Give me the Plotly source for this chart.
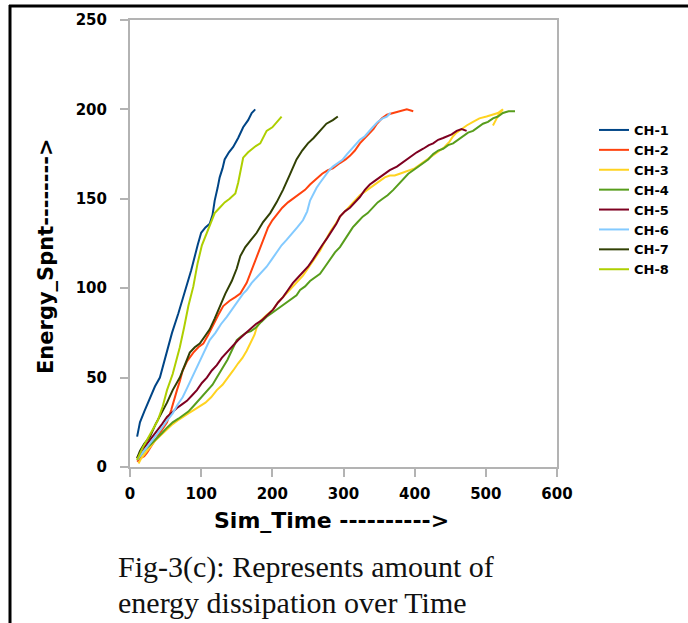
import plotly.graph_objects as go

# ---- data (Sim_Time, Energy_Spnt) ----
CH1 = [(10,17),(14,25),(20,31),(28,39),(35,45),(42,50),(50,62),(59,75),(68,86),(77,98),(86,110),
       (95,124),(100,131),(106,134),(112,136),(116,141),(119,149),(123,156),(126,162),(130,167),
       (133,172),(139,176),(145,179),(152,184),(159,190),(166,194),(171,198),(176,200)]
CH2 = [(10,3),(15,5),(20,6),(24,8),(32,13),(40,18),(46,22),(52,25),(58,32),(62,38),(66,43),(70,48),
       (74,54),(80,59),(89,64),(96,67),(103,69),(110,74),(117,80),(124,85),(131,90),(140,93),(148,95),
       (155,97),(164,103),(169,108),(176,116),(182,122),(187,127),(194,134),(200,138),(206,141),
       (214,145),(222,148),(229,150),(238,153),(246,155),(253,158),(262,161),(270,164),(278,166),
       (285,167),(295,170),(303,172),(309,174),(316,177),(323,181),(330,184),(337,187),(342,189),
       (347,192),(354,195),(361,197),(370,198),(379,199),(389,200),(398,199)]
CH3 = [(12,2),(16,5),(22,8),(28,11),(36,15),(44,18),(52,21),(60,24),(67,26),(74,28),(82,30),(90,32),
       (98,34),(106,36),(114,39),(122,43),(130,46),(138,50),(145,54),(152,58),(158,61),(164,65),
       (170,70),(175,74),(178,78),(184,82),(192,85),(201,88),(208,92),(215,95),(222,98),(229,101),
       (236,104),(243,107),(250,111),(258,116),(267,121),(275,127),(282,132),(289,136),(295,140),
       (302,143),(309,146),(316,149),(323,152),(330,154),(337,156),(344,158),(351,160),(358,162),
       (365,163),(372,163),(379,164),(386,165),(393,166),(400,167),(407,169),(414,171),(421,173),
       (428,175),(435,177),(442,179),(449,182),(454,185),(459,187),(466,189),(473,191),(482,193),
       (491,195),(501,196),(510,197),(517,198),(524,200),(518,197),(514,194),(510,191)]
CH4 = [(10,4),(16,7),(22,10),(30,13),(38,16),(45,19),(52,22),(60,25),(68,27),(75,29),(82,31),(89,34),
       (96,37),(103,40),(110,43),(116,46),(122,50),(130,55),(137,60),(144,66),(150,71),(156,73),
       (163,75),(170,76),(177,78),(184,81),(192,84),(199,86),(206,88),(213,90),(220,92),(227,94),
       (234,96),(239,99),(246,101),(253,104),(260,106),(267,108),(274,112),(281,116),(288,120),
       (295,123),(302,127),(308,131),(313,134),(320,137),(327,140),(334,142),(341,145),(348,148),
       (355,150),(362,152),(370,155),(377,158),(384,161),(391,164),(398,166),(405,168),(412,170),
       (419,172),(426,175),(433,177),(440,178),(447,180),(454,181),(461,183),(468,185),(475,187),
       (482,188),(489,190),(496,192),(503,193),(510,195),(517,196),(524,198),(532,199),(541,199)]
CH5 = [(10,5),(16,9),(22,12),(30,16),(38,20),(45,24),(52,28),(60,31),(66,33),(73,35),(80,37),(87,40),
       (94,43),(101,47),(108,50),(115,54),(122,57),(129,61),(136,64),(144,68),(152,71),(160,74),
       (169,77),(177,80),(185,82),(193,85),(201,88),(208,92),(215,95),(222,99),(229,103),(236,106),
       (243,109),(250,112),(257,116),(263,120),(270,124),(277,128),(284,132),(290,136),(295,140),
       (302,143),(309,145),(316,148),(323,151),(330,155),(337,158),(344,160),(351,162),(358,164),
       (365,166),(375,168),(385,171),(395,174),(403,176),(412,178),(420,180),(426,181),(433,183),
       (440,184),(445,185),(452,186),(459,188),(466,189),(473,188)]
CH6 = [(10,4),(16,7),(22,10),(30,14),(38,18),(45,22),(52,26),(60,30),(67,35),(74,39),(80,44),(87,50),
       (94,56),(100,61),(106,66),(112,71),(120,75),(128,80),(136,84),(143,88),(151,93),(159,97),
       (164,99),(171,103),(178,106),(185,109),(192,112),(199,116),(206,120),(213,124),(220,127),
       (227,130),(235,134),(243,138),(249,143),(253,149),(258,153),(262,156),(267,159),(274,163),
       (280,166),(285,168),(292,170),(299,172),(305,175),(312,178),(318,181),(323,183),(330,185),
       (336,188),(341,190),(348,193),(355,195),(361,196),(366,198)]
CH7 = [(10,5),(14,9),(20,13),(28,17),(36,24),(44,30),(52,36),(60,43),(70,50),(77,57),(84,64),(91,67),
       (98,69),(105,73),(112,77),(119,83),(126,90),(134,97),(143,104),(150,111),(155,118),(162,123),
       (170,127),(178,131),(187,137),(197,142),(206,148),(215,155),(224,163),(234,172),(242,177),
       (250,181),(258,184),(267,188),(276,192),(285,194),(292,196)]
CH8 = [(10,4),(14,8),(18,11),(25,16),(32,21),(39,26),(46,34),(52,43),(60,52),(66,61),(70,67),(76,78),
       (82,90),(89,101),(95,114),(101,124),(108,131),(114,137),(119,142),(126,145),(133,148),
       (140,150),(148,153),(152,159),(155,166),(159,173),(166,176),(175,179),(183,181),(192,188),
       (200,190),(207,193),(213,196)]

series_names = ["CH-1", "CH-2", "CH-3", "CH-4", "CH-5", "CH-6", "CH-7", "CH-8"]
series_data = [CH1, CH2, CH3, CH4, CH5, CH6, CH7, CH8]
colors = ["#004586", "#ff420e", "#ffd320", "#579d1c", "#7e0021", "#83caff", "#314004", "#aecf00"]

x_ticks = [0, 100, 200, 300, 400, 500, 600]
y_ticks = [0, 50, 100, 150, 200, 250]

fig = go.Figure()
for name, pts, col in zip(series_names, series_data, colors):
    fig.add_trace(go.Scatter(
        x=[p[0] for p in pts], y=[p[1] for p in pts], name=name,
        mode="lines", line=dict(color=col, width=2),
    ))

W, H = 688, 623
L, R, T, B = 130, 131, 20, 156
pw, ph = W - L - R, H - T - B

def px(xp):
    return (xp - L) / pw

def py(yp):
    return (H - B - yp) / ph

tickfont = dict(family="DejaVu Sans", size=15, color="black", weight="bold")
axis_common = dict(showline=True, linecolor="#b3b3b3", linewidth=2, mirror=True,
                   ticks="outside", ticklen=8, tickcolor="#b3b3b3", tickwidth=2,
                   showgrid=False, zeroline=False, tickfont=tickfont)

fig.update_layout(
    width=W, height=H,
    margin=dict(l=L, r=R, t=T, b=B, pad=0),
    paper_bgcolor="white", plot_bgcolor="white",
    xaxis=dict(range=[0, 600], tickvals=x_ticks, ticklabelstandoff=4, **axis_common),
    yaxis=dict(range=[0, 250], tickvals=y_ticks, ticklabelstandoff=10, **axis_common),
    showlegend=True,
    legend=dict(x=px(594), y=py(115), xanchor="left", yanchor="top",
                font=dict(family="DejaVu Sans", size=13, color="black", weight="bold"),
                bgcolor="rgba(0,0,0,0)", borderwidth=0, itemwidth=30),
    annotations=[
        dict(text="Energy_Spnt-------->", textangle=-90, xref="paper", yref="paper",
             x=px(46), y=py(256), xanchor="center", yanchor="middle", showarrow=False,
             font=dict(family="DejaVu Sans", size=21, color="black", weight="bold")),
        dict(text="Sim_Time ---------->", xref="paper", yref="paper",
             x=px(331), y=py(520), xanchor="center", yanchor="middle", showarrow=False,
             font=dict(family="DejaVu Sans", size=22, color="black", weight="bold")),
        dict(text="Fig-3(c): Represents amount of", xref="paper", yref="paper",
             x=px(116), y=py(567), xanchor="left", yanchor="middle", showarrow=False,
             font=dict(family="Liberation Serif", size=30, color="#111111")),
        dict(text="energy dissipation over Time", xref="paper", yref="paper",
             x=px(116), y=py(602), xanchor="left", yanchor="middle", showarrow=False,
             font=dict(family="Liberation Serif", size=30, color="#111111")),
    ],
    shapes=[
        dict(type="line", xref="paper", yref="paper", x0=px(10), x1=px(10), y0=py(623), y1=py(5),
             line=dict(color="black", width=3)),
        dict(type="line", xref="paper", yref="paper", x0=px(9), x1=px(688), y0=py(6), y1=py(6),
             line=dict(color="black", width=3)),
    ],
)

fig.write_html("out.html", config={"displayModeBar": False},
               post_script="document.body.style.margin='0';document.body.style.overflow='hidden';")
